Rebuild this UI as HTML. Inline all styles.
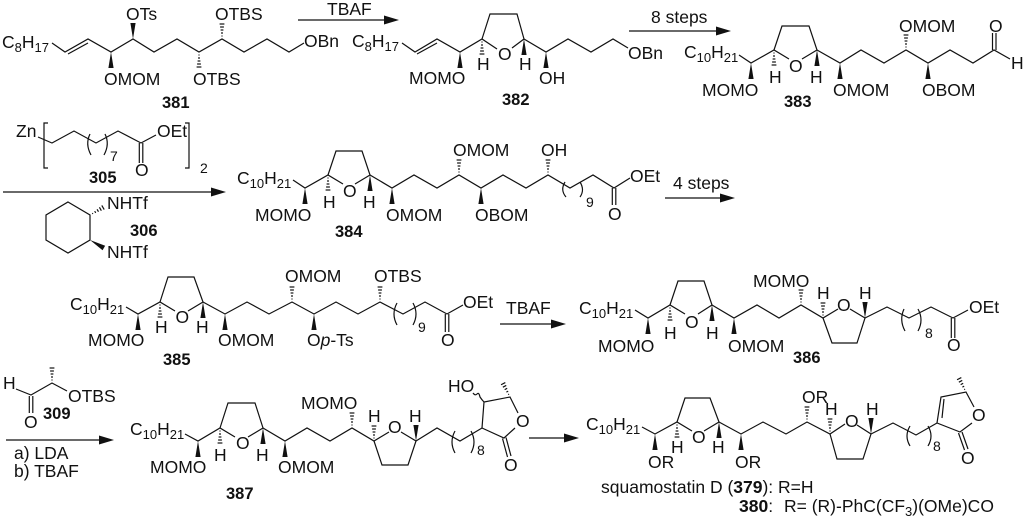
<!DOCTYPE html>
<html><head><meta charset="utf-8"><style>
html,body{margin:0;padding:0;background:#fff}
svg{display:block}
text{font-family:"Liberation Sans",sans-serif;font-size:17.5px;fill:#111}
.b{font-weight:bold;font-size:16.5px}
.s{font-size:13px}
.d{font-size:14px}
polyline,line,path.l{fill:none;stroke:#111;stroke-width:1.2}
</style></head><body>
<svg width="1024" height="521" viewBox="0 0 1024 521" xmlns="http://www.w3.org/2000/svg">
<defs>
<polygon id="w" points="0,0 -2.6,16 2.6,16" fill="#111"/>
<g id="h" stroke="#111" stroke-width="1.1">
<line x1="-.5" x2=".5" y1="3" y2="3"/><line x1="-1" x2="1" y1="6" y2="6"/><line x1="-1.4" x2="1.4" y1="9" y2="9"/><line x1="-1.9" x2="1.9" y1="12" y2="12"/><line x1="-2.4" x2="2.4" y1="15" y2="15"/>
</g>
<polygon id="a" points="0,0 -15,-4.5 -15,4.5" fill="#111"/>
</defs>

<!-- 381 -->
<text x="2" y="48">C<tspan class="s" dy="4">8</tspan><tspan dy="-4">H</tspan><tspan class="s" dy="4">17</tspan></text>
<polyline points="52,43 65,52 88,39 111,52 133,39 154,52 177,39 199,52 222,39 244,52 267,39 289,52 304,43"/>
<line x1="68" y1="54" x2="88" y2="43"/>
<use href="#w" x="111" y="52"/>
<use href="#w" transform="translate(133,39) rotate(180)"/>
<use href="#h" transform="translate(222,39) rotate(180)"/>
<use href="#h" transform="translate(199,52)"/>
<text x="126" y="20">OTs</text><text x="215" y="20">OTBS</text>
<text x="104" y="85">OMOM</text><text x="193" y="85">OTBS</text>
<text x="304" y="47">OBn</text>
<text class="b" x="162" y="108">381</text>

<!-- arrow 1 -->
<line x1="298" y1="20" x2="385" y2="20"/><use href="#a" x="399" y="20"/>
<text x="327" y="15">TBAF</text>

<!-- 382 -->
<text x="352" y="47">C<tspan class="s" dy="4">8</tspan><tspan dy="-4">H</tspan><tspan class="s" dy="4">17</tspan></text>
<polyline points="402,43 415,52 437,39 460,52 482,39 497,49"/>
<line x1="417" y1="54" x2="437" y2="43"/>
<polyline points="482,39 490,14 517,14 524,39 512,48"/>
<polyline points="524,39 546,52 568,39 591,52 613,39 628,48"/>
<use href="#w" x="460" y="52"/>
<use href="#h" transform="translate(482,39)"/>
<use href="#w" x="524" y="39"/>
<use href="#w" x="546" y="52"/>
<text x="498" y="60">O</text>
<text x="409" y="84">MOMO</text>
<text x="477" y="70">H</text><text x="519" y="70">H</text>
<text x="539" y="84">OH</text><text x="628" y="59">OBn</text>
<text class="b" x="502" y="105">382</text>

<!-- arrow 2 -->
<line x1="629" y1="31" x2="717" y2="31"/><use href="#a" x="731" y="31"/>
<text x="651" y="23">8 steps</text>

<!-- 383 -->
<text x="684" y="58">C<tspan class="s" dy="4">10</tspan><tspan dy="-4">H</tspan><tspan class="s" dy="4">21</tspan></text>
<polyline points="739,55 751,63 774,50 789,59"/>
<polyline points="774,50 782,26 809,26 817,50 802,59"/>
<polyline points="817,50 840,63 861,50 884,63 906,50 928,63 950,50 973,63 994,50 1010,59"/>
<line x1="992.5" y1="50" x2="992.5" y2="33"/><line x1="996" y1="50" x2="996" y2="33"/>
<use href="#w" x="751" y="63"/><use href="#h" transform="translate(774,50)"/>
<use href="#w" x="817" y="50"/><use href="#w" x="840" y="63"/>
<use href="#h" transform="translate(906,50) rotate(180)"/><use href="#w" x="928" y="63"/>
<text x="789" y="72">O</text><text x="769" y="83">H</text><text x="810" y="83">H</text>
<text x="702" y="96">MOMO</text><text x="833" y="96">OMOM</text><text x="922" y="96">OBOM</text>
<text x="899" y="32">OMOM</text><text x="989" y="32">O</text><text x="1011" y="69">H</text>
<text class="b" x="784" y="107">383</text>

<!-- 305 -->
<text x="16" y="137">Zn</text>
<polyline points="38,137 52,143 74,131 96,143 118,131 141,143 156,135"/>
<line x1="139.3" y1="143" x2="139.3" y2="163"/><line x1="142.8" y1="143" x2="142.8" y2="163"/>
<polyline points="48,123 44,123 44,168 48,168"/>
<polyline points="185,123 189,123 189,168 185,168"/>
<path class="l" d="M90,134 Q85,144 91,155"/><path class="l" d="M105,134 Q110,144 104,155"/>
<text class="d" x="110" y="161">7</text>
<text x="157" y="137">OEt</text><text x="135" y="176">O</text>
<text class="d" x="200" y="173">2</text>
<text class="b" x="89" y="183">305</text>

<!-- long arrow -->
<line x1="3" y1="192" x2="212" y2="192"/><use href="#a" x="226" y="192"/>

<!-- 306 -->
<polygon points="68,202 90,215 90,240 68,253 46,240 46,215" fill="none" stroke="#111" stroke-width="1.2"/>
<use href="#h" transform="translate(90,215) rotate(-120)"/>
<use href="#w" transform="translate(90,240) rotate(-60)"/>
<text x="107" y="209">NHTf</text><text x="107" y="258">NHTf</text>
<text class="b" x="130" y="236">306</text>

<!-- 384 -->
<text x="237" y="184">C<tspan class="s" dy="4">10</tspan><tspan dy="-4">H</tspan><tspan class="s" dy="4">21</tspan></text>
<polyline points="293,180 305,188 328,175 343,184"/>
<polyline points="328,175 336,151 362,151 370,175 355,184"/>
<polyline points="370,175 392,188 414,175 437,188 459,175 481,188 503,175 526,188 548,175 570,188 593,175 614,188 630,178"/>
<line x1="612.3" y1="188" x2="612.3" y2="205"/><line x1="615.8" y1="188" x2="615.8" y2="205"/>
<path class="l" d="M565,182 Q560,190 566,197"/><path class="l" d="M580,182 Q585,190 580,197"/>
<use href="#w" x="305" y="188"/><use href="#h" transform="translate(328,175)"/>
<use href="#w" x="370" y="175"/><use href="#w" x="392" y="188"/>
<use href="#h" transform="translate(459,175) rotate(180)"/><use href="#w" x="481" y="188"/>
<use href="#h" transform="translate(548,175) rotate(180)"/>
<text x="343" y="197">O</text><text x="323" y="208">H</text><text x="363" y="208">H</text>
<text x="255" y="221">MOMO</text><text x="386" y="221">OMOM</text><text x="475" y="221">OBOM</text>
<text x="453" y="156">OMOM</text><text x="541" y="156">OH</text>
<text x="630" y="182">OEt</text><text x="608" y="220">O</text>
<text class="d" x="586" y="207">9</text>
<text class="b" x="335" y="237">384</text>

<!-- arrow 4 steps -->
<line x1="665" y1="198" x2="721" y2="198"/><use href="#a" x="735" y="198"/>
<text x="673" y="189">4 steps</text>

<!-- 385 -->
<text x="70" y="310">C<tspan class="s" dy="4">10</tspan><tspan dy="-4">H</tspan><tspan class="s" dy="4">21</tspan></text>
<polyline points="126,307 138,314 160,302 175,311"/>
<polyline points="160,302 168,277 194,277 203,302 188,311"/>
<polyline points="203,302 225,314 247,302 269,314 292,302 314,314 336,302 358,314 380,302 403,314 425,302 447,314 463,305"/>
<line x1="445.3" y1="314" x2="445.3" y2="332"/><line x1="448.8" y1="314" x2="448.8" y2="332"/>
<path class="l" d="M397,303 Q391,314 397,325"/><path class="l" d="M413,303 Q419,314 413,325"/>
<use href="#w" x="138" y="314"/><use href="#h" transform="translate(160,302)"/>
<use href="#w" x="203" y="302"/><use href="#w" x="225" y="314"/>
<use href="#h" transform="translate(292,302) rotate(180)"/><use href="#w" x="314" y="314"/>
<use href="#h" transform="translate(380,302) rotate(180)"/>
<text x="175.500" y="323">O</text><text x="155" y="333">H</text><text x="196" y="333">H</text>
<text x="88" y="346">MOMO</text><text x="218" y="346">OMOM</text>
<text x="307" y="346">O<tspan font-style="italic">p</tspan>-Ts</text>
<text x="285" y="282">OMOM</text><text x="374" y="282">OTBS</text>
<text x="463" y="308">OEt</text><text x="441" y="346">O</text>
<text class="d" x="418" y="332">9</text>
<text class="b" x="163" y="365">385</text>

<!-- TBAF arrow -->
<line x1="500" y1="324" x2="552" y2="324"/><use href="#a" x="566" y="324"/>
<text x="506" y="314">TBAF</text>

<!-- 386 -->
<text x="579" y="314">C<tspan class="s" dy="4">10</tspan><tspan dy="-4">H</tspan><tspan class="s" dy="4">21</tspan></text>
<polyline points="635,310 648,318 670,305 685,314"/>
<polyline points="670,305 678,281 704,281 712,305 698,314"/>
<polyline points="712,305 734,318 757,305 779,318 801,305 823,318 838,309"/>
<polyline points="823,318 832,343 857,343 865,318 850,309"/>
<polyline points="865,318 887,307 909,318 931,307 953,318 968,310"/>
<line x1="951.300" y1="318" x2="951.300" y2="338"/><line x1="954.800" y1="318" x2="954.800" y2="338"/>
<path class="l" d="M904,309 Q899,320 905,331"/><path class="l" d="M918,309 Q924,320 918,331"/>
<use href="#w" x="648" y="318"/><use href="#h" transform="translate(670,305)"/>
<use href="#w" x="712" y="305"/><use href="#w" x="734" y="318"/>
<use href="#h" transform="translate(801,305) rotate(180)"/>
<use href="#h" transform="translate(823,318) rotate(180)"/>
<use href="#w" transform="translate(865,318) rotate(180)"/>
<text x="685" y="328">O</text><text x="664" y="339">H</text><text x="706" y="339">H</text>
<text x="598" y="352">MOMO</text><text x="728" y="352">OMOM</text>
<text x="753" y="287">MOMO</text><text x="837" y="311">O</text>
<text x="817" y="299">H</text><text x="859" y="299">H</text>
<text x="969" y="313">OEt</text><text x="947" y="351">O</text>
<text class="d" x="925" y="338">8</text>
<text class="b" x="793" y="363">386</text>

<!-- 309 -->
<text x="3" y="389">H</text>
<polyline points="16,389 31,395 52,383 67,391"/>
<line x1="29.300" y1="396" x2="29.300" y2="413"/><line x1="32.800" y1="396" x2="32.800" y2="413"/>
<use href="#h" transform="translate(52,383) rotate(180)"/>
<text x="24" y="428">O</text><text x="68" y="402">OTBS</text>
<text class="b" x="43" y="419">309</text>
<line x1="6" y1="440" x2="100" y2="440"/><use href="#a" x="114" y="440"/>
<text x="14" y="459">a) LDA</text><text x="14" y="477">b) TBAF</text>

<!-- 387 -->
<text x="130" y="435">C<tspan class="s" dy="4">10</tspan><tspan dy="-4">H</tspan><tspan class="s" dy="4">21</tspan></text>
<polyline points="185,434 198,441 220,428 235,437"/>
<polyline points="220,428 228,403 255,403 263,428 248,437"/>
<polyline points="263,428 285,441 307,428 330,441 352,428 374,441 389,432"/>
<polyline points="374,441 382,465 408,465 416,441 401,432"/>
<polyline points="416,441 437,428 460,441 482,428 504,438 515,428"/>
<polyline points="482,428 484,402 510,397 518,413"/>
<path class="l" d="M473,393 q2,3 4,1 q2,-2 3,3 q2,3 4,5"/>
<line x1="502.500" y1="438.500" x2="507.500" y2="457"/><line x1="506" y1="437.500" x2="511" y2="456"/>
<path class="l" d="M455,431 Q449,442 455,453"/><path class="l" d="M471,431 Q477,442 471,453"/>
<use href="#w" x="198" y="441"/><use href="#h" transform="translate(220,428)"/>
<use href="#w" x="263" y="428"/><use href="#w" x="285" y="441"/>
<use href="#h" transform="translate(352,428) rotate(180)"/>
<use href="#h" transform="translate(374,441) rotate(180)"/>
<use href="#w" transform="translate(416,441) rotate(180)"/>
<use href="#h" transform="translate(510,397) rotate(153)"/>
<text x="236" y="449">O</text><text x="214" y="461">H</text><text x="256" y="461">H</text>
<text x="150" y="473">MOMO</text><text x="278" y="473">OMOM</text>
<text x="301" y="409">MOMO</text><text x="388" y="433">O</text>
<text x="368" y="422">H</text><text x="409" y="422">H</text>
<text x="448" y="392">HO</text><text x="516" y="427">O</text><text x="504" y="471">O</text>
<text class="d" x="477" y="455">8</text>
<text class="b" x="226" y="499">387</text>

<!-- arrow 5 -->
<line x1="529" y1="438" x2="565" y2="438"/><use href="#a" x="579" y="438"/>

<!-- product -->
<text x="586" y="430">C<tspan class="s" dy="4">10</tspan><tspan dy="-4">H</tspan><tspan class="s" dy="4">21</tspan></text>
<polyline points="642,427 655,434 677,422 692,431"/>
<polyline points="677,422 685,398 710,398 719,422 704,431"/>
<polyline points="719,422 741,434 763,422 786,434 807,422 830,434 845,424"/>
<polyline points="830,434 837,459 863,459 871,434 857,425"/>
<polyline points="871,434 893,423 916,435 937,423 960,432 972,423"/>
<polyline points="937,423 941,397 966,392 974,407"/>
<line x1="944" y1="399" x2="942" y2="418"/>
<line x1="958.500" y1="433" x2="964.500" y2="450"/><line x1="962" y1="432" x2="968" y2="449"/>
<path class="l" d="M910,426 Q904,436 910,446"/><path class="l" d="M928,426 Q934,436 928,446"/>
<use href="#w" x="655" y="434"/><use href="#h" transform="translate(677,422)"/>
<use href="#w" x="719" y="422"/><use href="#w" x="741" y="434"/>
<use href="#h" transform="translate(807,422) rotate(180)"/>
<use href="#h" transform="translate(830,434) rotate(180)"/>
<use href="#w" transform="translate(871,434) rotate(180)"/>
<use href="#h" transform="translate(966,392) rotate(153)"/>
<text x="692" y="443">O</text><text x="671" y="453">H</text><text x="712" y="453">H</text>
<text x="648" y="468">OR</text><text x="735" y="468">OR</text>
<text x="802" y="403">OR</text><text x="845" y="427">O</text>
<text x="825" y="415">H</text><text x="866" y="415">H</text>
<text x="972" y="421">O</text><text x="961" y="464">O</text>
<text class="d" x="933" y="451">8</text>
<text x="601" y="493">squamostatin D (<tspan font-weight="bold">379</tspan>): R=H</text>
<text x="739" y="512"><tspan font-weight="bold">380</tspan>:<tspan x="784">R= (R)-PhC(CF</tspan><tspan class="s" dy="4">3</tspan><tspan dy="-4">)(OMe)CO</tspan></text>
</svg>
</body></html>
